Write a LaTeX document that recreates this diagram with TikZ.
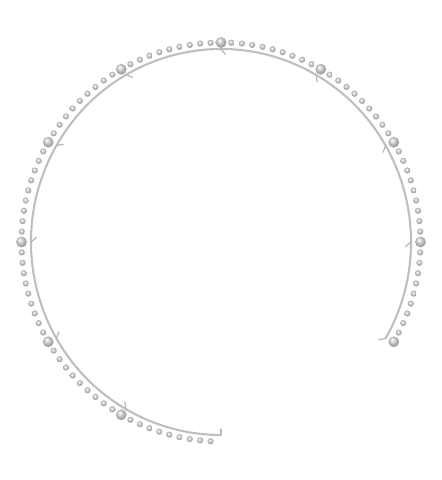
\documentclass[tikz,border=0pt]{standalone}

\pgfdeclareradialshading{bal}{\pgfqpoint{-8bp}{10bp}}{color(0bp)=(white); color(9bp)=(gray!30); color(18bp)=(gray!60); color(25bp)=(gray!75); color(50bp)=(gray!75)}
\tikzstyle{bigball} = [circle, minimum size=0.27cm, inner sep=0pt, shading=bal]
\tikzstyle{smallball} = [circle, minimum size=0.155cm, inner sep=0pt, shading=bal]
\tikzstyle{track} = [draw=gray!50, line width=1.5pt]
\tikzstyle{barb} = [draw=gray!55, line width=0.9pt, line cap=round]

\begin{document}
\begin{tikzpicture}[x=0.025cm, y=0.025cm]
\useasboundingbox (-221,-238) rectangle (220,242);
%baan
\draw[track] (-30:190 and 193) arc[start angle=-30, end angle=270, x radius=190, y radius=193];
%begin balletjes
\foreach \i in {0,...,99}{
    \pgfmathsetmacro{\hoek}{-30+3*\i}
    \pgfmathtruncatemacro{\rest}{mod(\i,10)}
    \ifnum\rest=0
        \node[bigball] (b\i) at (\hoek:199.5) {};
        %weerhaak
        \coordinate (p\i) at (\hoek:190 and 193);
        \draw[barb] (p\i) -- ++(\hoek-140:7);
    \else
        \node[smallball] (b\i) at (\hoek:199.5) {};
    \fi
}
%end balletjes
%eindstreep
\coordinate (eind) at (270:190 and 193);
\draw[barb] (eind) -- ++(90:6);
\end{tikzpicture}
\end{document}
